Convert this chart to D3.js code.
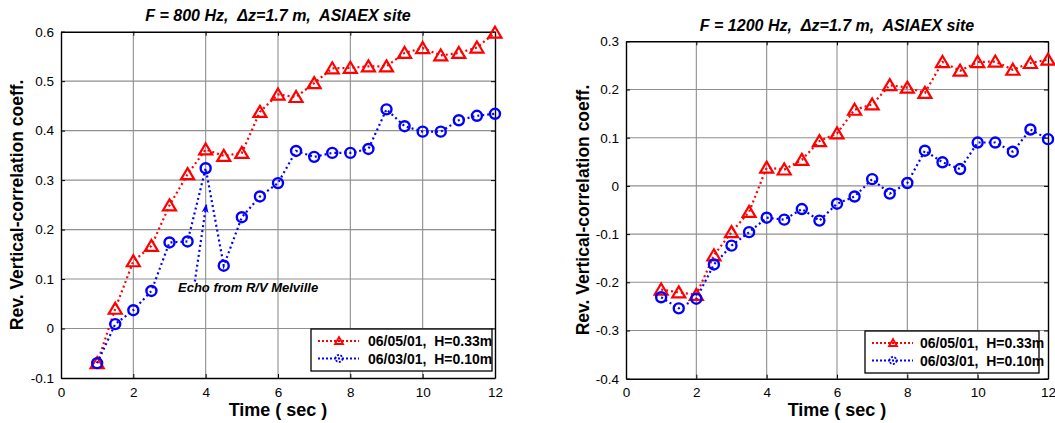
<!DOCTYPE html>
<html>
<head>
<meta charset="utf-8">
<script src="https://cdn.jsdelivr.net/npm/d3@7"></script>
<style>
  html, body { margin: 0; padding: 0; background: #fff; }
  svg { display: block; font-family: "Liberation Sans", Arial, sans-serif; }
  text { white-space: pre; }
</style>
</head>
<body>
<svg id="chart" width="1055" height="423"></svg>
<script>
// Sampling times (s)
const times = [1, 1.5, 2, 2.5, 3, 3.5, 4, 4.5, 5, 5.5, 6, 6.5, 7, 7.5, 8, 8.5, 9, 9.5, 10, 10.5, 11, 11.5, 12];

// 800 Hz
const red800  = [-0.07, 0.04, 0.136, 0.167, 0.249, 0.312, 0.362, 0.349, 0.355, 0.438, 0.473, 0.468, 0.496, 0.526, 0.527, 0.530, 0.530, 0.557, 0.567, 0.552, 0.557, 0.568, 0.598];
const blue800 = [-0.07, 0.009, 0.037, 0.076, 0.174, 0.176, 0.324, 0.127, 0.225, 0.267, 0.294, 0.359, 0.347, 0.355, 0.355, 0.363, 0.443, 0.409, 0.398, 0.398, 0.421, 0.430, 0.434];

// 1200 Hz
const red1200  = [-0.215, -0.221, -0.226, -0.144, -0.096, -0.054, 0.038, 0.034, 0.054, 0.093, 0.109, 0.158, 0.169, 0.209, 0.204, 0.193, 0.257, 0.239, 0.257, 0.258, 0.241, 0.255, 0.262];
const blue1200 = [-0.231, -0.254, -0.234, -0.163, -0.124, -0.096, -0.066, -0.070, -0.048, -0.072, -0.037, -0.022, 0.014, -0.016, 0.006, 0.073, 0.049, 0.035, 0.090, 0.090, 0.071, 0.117, 0.097];

// Axis ticks
const xTicks = [0, 2, 4, 6, 8, 10, 12];
const yTicks800 = [-0.1, 0, 0.1, 0.2, 0.3, 0.4, 0.5, 0.6];
const yTicks1200 = [-0.4, -0.3, -0.2, -0.1, 0, 0.1, 0.2, 0.3];

// Legend entries
const legendLabels = ["06/05/01,  H=0.33m", "06/03/01,  H=0.10m"];

// Echo annotation: arrow from label up to the spike at 4 s
const echoArrow = [[3.7, 0.095], [4.02, 0.252]];
const echoLabel = "Echo from R/V Melville";

const svg = d3.select("#chart");
const RED = "#ff0000", BLUE = "#0000ff";

function drawPanel(cfg) {
  const x = d3.scaleLinear().domain([0, 12]).range([cfg.x0, cfg.x1]);
  const y = d3.scaleLinear().domain(cfg.yDomain).range([cfg.y0, cfg.y1]);
  const g = svg.append("g");

  // grid
  g.append("g").selectAll("line").data(xTicks.slice(1, -1)).join("line")
    .attr("x1", d => x(d)).attr("x2", d => x(d))
    .attr("y1", cfg.y1).attr("y2", cfg.y0)
    .attr("stroke", "#8f8f8f").attr("stroke-width", 1.1);
  g.append("g").selectAll("line").data(cfg.yTicks.slice(1, -1)).join("line")
    .attr("y1", d => y(d)).attr("y2", d => y(d))
    .attr("x1", cfg.x0).attr("x2", cfg.x1)
    .attr("stroke", "#8f8f8f").attr("stroke-width", 1.1);

  // axes: bottom/left with labels, top/right ticks only
  const fmt = d => (d === 0 ? "0" : d3.format(".1f")(d).replace("−", "-"));
  const bottom = g.append("g").attr("transform", `translate(0,${cfg.y0})`)
    .call(d3.axisBottom(x).tickValues(xTicks).tickSizeInner(-4).tickSizeOuter(0).tickPadding(9));
  const left = g.append("g").attr("transform", `translate(${cfg.x0},0)`)
    .call(d3.axisLeft(y).tickValues(cfg.yTicks).tickFormat(fmt).tickSizeInner(-4).tickSizeOuter(0).tickPadding(7));
  const top = g.append("g").attr("transform", `translate(0,${cfg.y1})`)
    .call(d3.axisTop(x).tickValues(xTicks).tickSizeInner(-4).tickSizeOuter(0).tickFormat(""));
  const right = g.append("g").attr("transform", `translate(${cfg.x1},0)`)
    .call(d3.axisRight(y).tickValues(cfg.yTicks).tickSizeInner(-4).tickSizeOuter(0).tickFormat(""));
  [bottom, left, top, right].forEach(a => {
    a.select(".domain").attr("stroke", "#000").attr("stroke-width", 1.4);
    a.selectAll(".tick line").attr("stroke", "#000");
    a.selectAll("text").attr("font-size", 13.5).attr("fill", "#000")
      .attr("font-family", "'Liberation Sans', Arial, sans-serif");
  });

  // series
  const line = d3.line().x((d, i) => x(times[i])).y(d => y(d));
  const series = [
    { vals: cfg.red, color: RED, shape: "tri" },
    { vals: cfg.blue, color: BLUE, shape: "circ" }
  ];
  series.forEach(s => {
    g.append("path").datum(s.vals).attr("d", line)
      .attr("fill", "none").attr("stroke", s.color).attr("stroke-width", 2.2)
      .attr("stroke-dasharray", "2,3");
  });

  if (cfg.arrow) {
    const a = cfg.arrow;
    g.append("line")
      .attr("x1", x(a[0][0])).attr("y1", y(a[0][1]))
      .attr("x2", x(a[1][0])).attr("y2", y(a[1][1]))
      .attr("stroke", BLUE).attr("stroke-width", 2.2).attr("stroke-dasharray", "2,3");
    const ang = Math.atan2(y(a[1][1]) - y(a[0][1]), x(a[1][0]) - x(a[0][0]));
    const tx = x(a[1][0]), ty = y(a[1][1]);
    const L = 9, W = 3.5;
    const bx = tx - L * Math.cos(ang), by = ty - L * Math.sin(ang);
    const px = -Math.sin(ang) * W, py = Math.cos(ang) * W;
    const nx = tx - 0.7 * L * Math.cos(ang), ny = ty - 0.7 * L * Math.sin(ang);
    g.append("path")
      .attr("d", `M${tx},${ty} L${bx + px},${by + py} L${nx},${ny} L${bx - px},${by - py} Z`)
      .attr("fill", BLUE);
    g.append("text").attr("x", cfg.labelX).attr("y", cfg.labelY)
      .attr("font-size", 13).attr("font-weight", "bold").attr("font-style", "italic")
      .text(echoLabel);
  }

  // markers
  series.forEach(s => {
    const pts = s.vals.map((v, i) => [x(times[i]), y(v)]);
    if (s.shape === "tri") {
      g.append("g").selectAll("path").data(pts).join("path")
        .attr("d", d => `M${d[0]},${d[1] - 6} L${d[0] + 6.5},${d[1] + 5} L${d[0] - 6.5},${d[1] + 5} Z`)
        .attr("fill", "none").attr("stroke", s.color).attr("stroke-width", 2.2);
    } else {
      g.append("g").selectAll("circle").data(pts).join("circle")
        .attr("cx", d => d[0]).attr("cy", d => d[1]).attr("r", 5)
        .attr("fill", "none").attr("stroke", s.color).attr("stroke-width", 2.4);
    }
  });

  // titles and axis labels
  const cx = (cfg.x0 + cfg.x1) / 2;
  g.append("text").attr("x", cx).attr("y", cfg.titleY).attr("text-anchor", "middle")
    .attr("font-size", 16).attr("font-weight", "bold").attr("font-style", "italic")
    .text(cfg.title);
  g.append("text").attr("x", cx).attr("y", 416).attr("text-anchor", "middle")
    .attr("font-size", 18).attr("font-weight", "bold").text("Time ( sec )");
  g.append("text")
    .attr("transform", `translate(${cfg.yLabelX},${(cfg.y0 + cfg.y1) / 2}) rotate(-90)`)
    .attr("text-anchor", "middle").attr("font-size", 17.5).attr("font-weight", "bold")
    .text("Rev. Vertical-correlation coeff.");

  // legend
  const lg = g.append("g").attr("transform", `translate(${cfg.legX},${cfg.legY})`);
  lg.append("rect").attr("width", cfg.legW).attr("height", 42)
    .attr("fill", "#fff").attr("stroke", "#000").attr("stroke-width", 1.3);
  series.forEach((s, i) => {
    const ly = 12 + i * 17.5;
    lg.append("line").attr("x1", 7).attr("x2", 48).attr("y1", ly).attr("y2", ly)
      .attr("stroke", s.color).attr("stroke-width", 2).attr("stroke-dasharray", "2,2");
    if (s.shape === "tri") {
      lg.append("path").attr("d", `M28,${ly - 4} L32,${ly + 3} L24,${ly + 3} Z`)
        .attr("fill", "none").attr("stroke", s.color).attr("stroke-width", 1.8);
    } else {
      lg.append("circle").attr("cx", 28).attr("cy", ly).attr("r", 3.5)
        .attr("fill", "none").attr("stroke", s.color).attr("stroke-width", 1.8)
        .attr("stroke-dasharray", "2,1.5");
    }
    lg.append("text").attr("x", cfg.legTextX).attr("y", ly + 5)
      .attr("font-size", 14).attr("font-weight", "bold")
      .text(legendLabels[i]);
  });
}

drawPanel({
  x0: 61, x1: 495, y0: 378, y1: 31.7,
  yDomain: [-0.1, 0.6], yTicks: yTicks800,
  red: red800, blue: blue800,
  title: "F = 800 Hz,  \u0394z=1.7 m,  ASIAEX site", titleY: 21,
  yLabelX: 23,
  legX: 311, legY: 329, legW: 181, legTextX: 57,
  arrow: echoArrow, labelX: 178, labelY: 292
});

drawPanel({
  x0: 626, x1: 1048, y0: 378.7, y1: 41.3,
  yDomain: [-0.4, 0.3], yTicks: yTicks1200,
  red: red1200, blue: blue1200,
  title: "F = 1200 Hz,  \u0394z=1.7 m,  ASIAEX site", titleY: 31,
  yLabelX: 589,
  legX: 865, legY: 331, legW: 174, legTextX: 55
});
</script>
</body>
</html>
